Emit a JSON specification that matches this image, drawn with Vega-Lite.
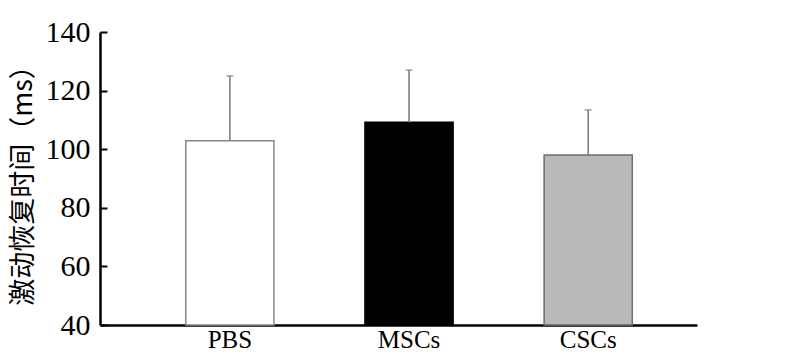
{
  "$schema": "https://vega.github.io/schema/vega-lite/v6.json",
  "width": 597,
  "height": 293,
  "autosize": {"type": "none"},
  "padding": {"left": 100, "top": 32, "right": 103, "bottom": 29},
  "background": "white",
  "config": {"view": {"stroke": null}},
  "data": {
    "values": [
      {"group": "PBS", "mean": 102.9, "upper": 125},
      {"group": "MSCs", "mean": 109.2, "upper": 127},
      {"group": "CSCs", "mean": 98, "upper": 113.4}
    ]
  },
  "encoding": {
    "x": {
      "field": "group",
      "type": "nominal",
      "sort": ["PBS", "MSCs", "CSCs"],
      "scale": {"paddingInner": 0.508, "paddingOuter": 0.42, "align": 0.57},
      "axis": {
        "title": null,
        "ticks": false,
        "labelAngle": 0,
        "labelFont": "Liberation Serif",
        "labelFontSize": 25,
        "labelColor": "black",
        "labelPadding": 2,
        "domainColor": "black",
        "domainWidth": 2.5
      }
    }
  },
  "layer": [
    {
      "mark": {"type": "bar", "strokeWidth": 1.5},
      "encoding": {
        "y": {
          "field": "mean",
          "type": "quantitative",
          "scale": {"domain": [40, 140], "nice": false, "zero": false},
          "axis": {
            "title": "激动恢复时间（ms）",
            "titleFont": "Noto Sans CJK SC",
            "titleFontSize": 27,
            "titleFontWeight": "normal",
            "titleColor": "black",
            "titlePadding": 8,
            "values": [40, 60, 80, 100, 120, 140],
            "grid": false,
            "tickSize": -7,
            "tickWidth": 2,
            "tickColor": "black",
            "labelFont": "Liberation Serif",
            "labelFontSize": 30,
            "labelColor": "black",
            "labelPadding": 17,
            "domainColor": "black",
            "domainWidth": 2.5
          }
        },
        "y2": {"datum": 40},
        "fill": {
          "field": "group",
          "type": "nominal",
          "scale": {"domain": ["PBS", "MSCs", "CSCs"], "range": ["#ffffff", "#000000", "#b9b9b9"]},
          "legend": null
        },
        "stroke": {
          "field": "group",
          "type": "nominal",
          "scale": {"domain": ["PBS", "MSCs", "CSCs"], "range": ["#888888", "#000000", "#6e6e6e"]},
          "legend": null
        }
      }
    },
    {
      "mark": {"type": "rule", "color": "#777777", "strokeWidth": 1.5},
      "encoding": {
        "y": {"field": "mean", "type": "quantitative"},
        "y2": {"field": "upper"}
      }
    },
    {
      "mark": {"type": "tick", "color": "#777777", "thickness": 1.5, "size": 7},
      "encoding": {
        "y": {"field": "upper", "type": "quantitative"}
      }
    }
  ]
}
